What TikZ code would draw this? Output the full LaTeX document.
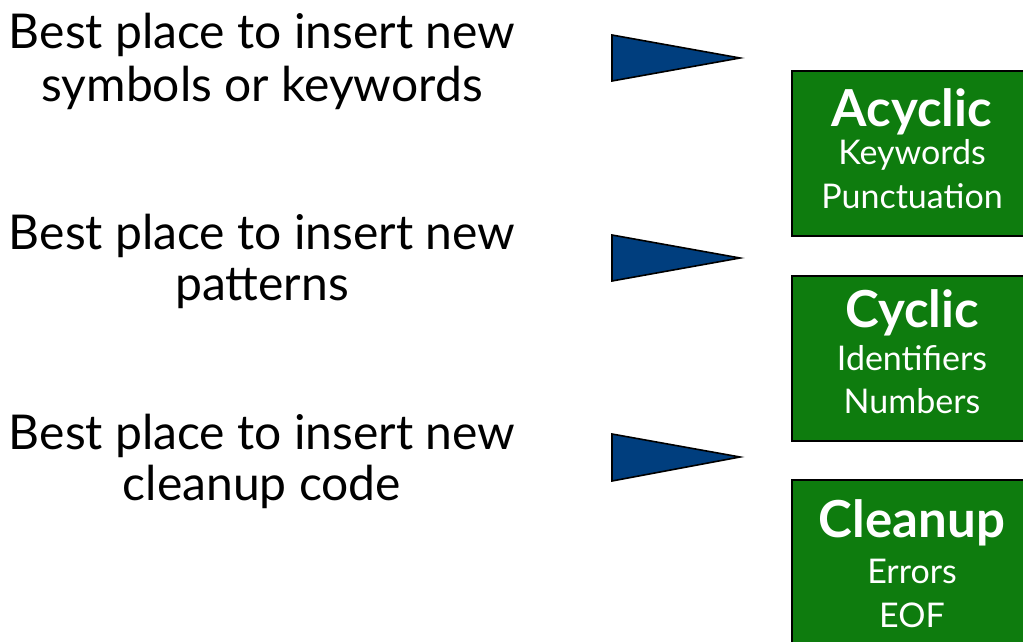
\documentclass[tikz,border=0pt]{standalone}
\usepackage{fontspec}
\setmainfont{Lato}
\definecolor{boxgreen}{RGB}{14,124,14}
\definecolor{navy}{RGB}{0,62,126}
\begin{document}
\begin{tikzpicture}[x=1pt,y=-1pt,
  lefttext/.style={inner sep=0pt,anchor=base,font=\fontsize{48}{54}\selectfont},
  titletext/.style={inner sep=0pt,anchor=base,text=white,font=\fontsize{51}{56}\selectfont\bfseries},
  subtext/.style={inner sep=0pt,anchor=base,text=white,font=\fontsize{34}{40}\selectfont},
  greenbox/.style={draw=black,line width=2pt,fill=boxgreen,rectangle,minimum width=240pt,minimum height=165pt,inner sep=0pt},
  pointer/.style={draw=black,line width=1.6pt,fill=navy,line join=miter}]
\useasboundingbox (0,0) rectangle (1023,642);
\clip (0,0) rectangle (1023,642);
% left texts
\node[lefttext] (a1) at (262,49) {Best place to insert new};
\node[lefttext] (a2) at (262,101) {symbols or keywords};
\node[lefttext] (b1) at (262,249) {Best place to insert new};
\node[lefttext] (b2) at (262,300) {patterns};
\node[lefttext] (c1) at (262,449) {Best place to insert new};
\node[lefttext] (c2) at (262,500) {cleanup code};
% pointers
\draw[pointer] (612,35) -- (740,58) -- (612,81) -- cycle;
\draw[pointer] (612,235) -- (740,258) -- (612,281) -- cycle;
\draw[pointer] (612,434) -- (740,457) -- (612,481) -- cycle;
% boxes
\node[greenbox] (box1) at (912,153.5) {};
\node[greenbox] (box2) at (912,358.5) {};
\node[greenbox] (box3) at (912,562.5) {};
\node[titletext] (t1) at (912,126) {Acyclic};
\node[subtext] (s1a) at (912,164) {Keywords};
\node[subtext] (s1b) at (912,208) {Punctuation};
\node[titletext] (t2) at (912,327) {Cyclic};
\node[subtext] (s2a) at (912,370) {Identifiers};
\node[subtext] (s2b) at (912,413) {Numbers};
\node[titletext] (t3) at (912,537) {Cleanup};
\node[subtext] (s3a) at (912,583) {Errors};
\node[subtext] (s3b) at (912,627) {EOF};
\end{tikzpicture}
\end{document}
